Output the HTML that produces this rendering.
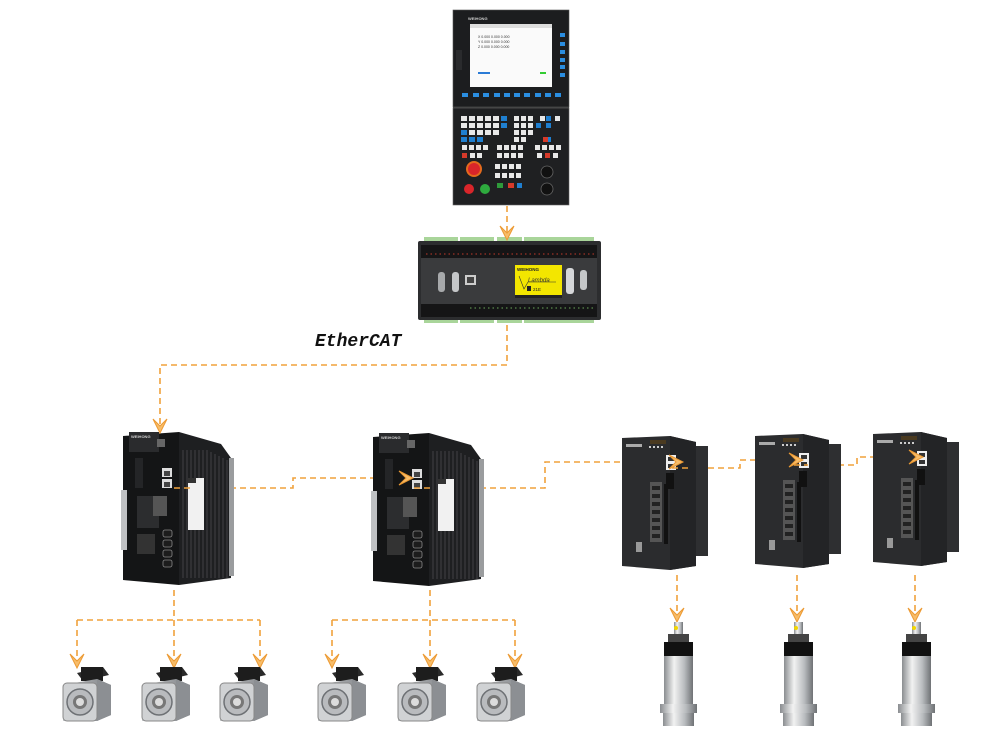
<!DOCTYPE html>
<html><head><meta charset="utf-8"><style>
html,body{margin:0;padding:0;background:#fff;width:1000px;height:732px;overflow:hidden}
svg{display:block}
</style></head><body>
<svg width="1000" height="732" viewBox="0 0 1000 732" xmlns="http://www.w3.org/2000/svg">
<defs>
<linearGradient id="silver" x1="0" x2="1">
<stop offset="0" stop-color="#8a8d90"/><stop offset="0.35" stop-color="#f2f2f2"/><stop offset="0.7" stop-color="#b9bcbf"/><stop offset="1" stop-color="#6f7275"/>
</linearGradient>
<linearGradient id="mgrey" x1="0" x2="1">
<stop offset="0" stop-color="#c9cbcd"/><stop offset="1" stop-color="#7d8084"/>
</linearGradient>
<g id="drive">
<polygon points="58,2 100,14 110,28 110,148 58,155" fill="#1e1f21"/>
<rect x="108" y="28" width="5" height="118" fill="#9a9c9e"/>
<g stroke="#3a3b3d" stroke-width="1.3">
<line x1="62" y1="20" x2="62" y2="148"/><line x1="66" y1="20" x2="66" y2="148"/><line x1="70" y1="20" x2="70" y2="148"/><line x1="74" y1="20" x2="74" y2="148"/><line x1="78" y1="20" x2="78" y2="148"/><line x1="82" y1="20" x2="82" y2="148"/><line x1="86" y1="20" x2="86" y2="148"/><line x1="90" y1="22" x2="90" y2="148"/><line x1="94" y1="24" x2="94" y2="148"/><line x1="98" y1="26" x2="98" y2="148"/><line x1="102" y1="28" x2="102" y2="148"/><line x1="106" y1="30" x2="106" y2="148"/>
</g>
<rect x="67" y="48" width="16" height="52" fill="#f1f1f1"/>
<rect x="67" y="48" width="8" height="5" fill="#333"/>
<polygon points="2,6 58,2 58,155 2,150" fill="#141516"/>
<rect x="8" y="2" width="30" height="20" fill="#2a2b2d"/>
<text x="10" y="8" font-family="Liberation Sans" font-size="4" fill="#ccc" font-weight="bold">WEIHONG</text>
<rect x="36" y="9" width="8" height="8" fill="#666"/>
<rect x="0" y="60" width="6" height="60" fill="#bfc1c3"/>
<rect x="41" y="38" width="10" height="9" fill="#ddd"/><rect x="41" y="49" width="10" height="9" fill="#ddd"/>
<rect x="43" y="41" width="6" height="5" fill="#444"/><rect x="43" y="52" width="6" height="5" fill="#444"/>
<rect x="14" y="28" width="8" height="30" fill="#242527"/>
<rect x="16" y="66" width="22" height="32" fill="#2c2d2f"/>
<rect x="32" y="66" width="14" height="20" fill="#555"/>
<rect x="16" y="104" width="18" height="20" fill="#333"/>
<g fill="#1c1c1c" stroke="#888" stroke-width="0.8">
<rect x="42" y="100" width="9" height="7" rx="2"/><rect x="42" y="110" width="9" height="7" rx="2"/><rect x="42" y="120" width="9" height="7" rx="2"/><rect x="42" y="130" width="9" height="7" rx="2"/>
</g>
</g>
<g id="sdrive">
<polygon points="0,2 48,0 74,6 74,130 48,134 0,130" fill="#2b2c2e"/>
<polygon points="48,0 74,6 74,130 48,134" fill="#232426"/>
<rect x="74" y="10" width="12" height="110" fill="#2e2f31"/>
<rect x="4" y="8" width="16" height="3" fill="#aaa"/>
<rect x="28" y="4" width="16" height="4" fill="#4a3a20"/>
<g fill="#ccc"><rect x="27" y="10" width="2" height="2"/><rect x="31" y="10" width="2" height="2"/><rect x="35" y="10" width="2" height="2"/><rect x="39" y="10" width="2" height="2"/></g>
<rect x="44" y="19" width="10" height="15" fill="#eee"/>
<rect x="46" y="21" width="6" height="4" fill="#333"/><rect x="46" y="28" width="6" height="4" fill="#333"/>
<rect x="44" y="37" width="8" height="16" fill="#111"/>
<rect x="28" y="46" width="12" height="60" fill="#555"/>
<g fill="#222"><rect x="30" y="50" width="8" height="4"/><rect x="30" y="58" width="8" height="4"/><rect x="30" y="66" width="8" height="4"/><rect x="30" y="74" width="8" height="4"/><rect x="30" y="82" width="8" height="4"/><rect x="30" y="90" width="8" height="4"/><rect x="30" y="98" width="8" height="4"/></g>
<rect x="42" y="48" width="4" height="60" fill="#111"/>
<rect x="14" y="106" width="6" height="10" fill="#999"/>
</g>
<g id="motor">
<polygon points="14,10 40,4 46,12 20,18" fill="#2a2a2a"/>
<rect x="18" y="4" width="22" height="14" fill="#1d1d1d"/>
<polygon points="0,22 34,16 48,22 48,52 34,58 0,58" fill="url(#mgrey)"/>
<polygon points="34,16 48,22 48,52 34,58" fill="#8c8f93"/>
<rect x="0" y="20" width="34" height="38" rx="4" fill="#d0d2d4" stroke="#888" stroke-width="1"/>
<circle cx="17" cy="39" r="13" fill="#b9bbbe" stroke="#6e7175" stroke-width="1.5"/>
<circle cx="17" cy="39" r="7" fill="#777"/>
<circle cx="17" cy="39" r="4" fill="#dcdcdc"/>
</g>
<g id="spindle">
<rect x="14" y="0" width="9" height="14" fill="url(#silver)"/>
<circle cx="16" cy="6" r="2" fill="#f2d600"/>
<rect x="8" y="12" width="21" height="10" fill="#444"/>
<rect x="4" y="20" width="29" height="14" fill="#111"/>
<rect x="4" y="34" width="29" height="48" fill="url(#silver)"/>
<rect x="0" y="82" width="37" height="9" fill="url(#silver)"/>
<rect x="3" y="91" width="31" height="13" fill="url(#silver)"/>
</g>
<g id="arr"><path d="M-7,-14 L0,0 L7,-14 L0,-7 Z" fill="#f7bd6a" stroke="#ec9a33" stroke-width="1"/></g>
</defs>

<rect x="453" y="10" width="116" height="195" fill="#222325"/>
<rect x="453" y="10" width="116" height="97" fill="#1c1d1f" stroke="#555" stroke-width="0.6"/>
<rect x="453" y="108" width="116" height="97" fill="#1f2022" stroke="#666" stroke-width="0.6"/>
<rect x="470" y="24" width="82" height="63" fill="#fafafa"/>
<rect x="470" y="24" width="82" height="4" fill="#ddd"/>
<g font-family="Liberation Sans" font-size="3.5" fill="#333">
<text x="478" y="38">X   0.000   0.000   0.000</text>
<text x="478" y="43">Y   0.000   0.000   0.000</text>
<text x="478" y="48">Z   0.000   0.000   0.000</text>
</g>
<rect x="478" y="72" width="12" height="2" fill="#2a7bd6"/><rect x="540" y="72" width="6" height="2" fill="#3c3"/>
<text x="468" y="20" font-family="Liberation Sans" font-size="4" fill="#ccc" font-weight="bold">WEIHONG</text>
<g fill="#2a8de0"><rect x="560" y="33" width="5" height="4"/><rect x="560" y="42" width="5" height="4"/><rect x="560" y="50" width="5" height="4"/><rect x="560" y="58" width="5" height="4"/><rect x="560" y="65" width="5" height="4"/><rect x="560" y="73" width="5" height="4"/>
<rect x="462" y="93" width="6" height="4"/><rect x="473" y="93" width="6" height="4"/><rect x="483" y="93" width="6" height="4"/><rect x="494" y="93" width="6" height="4"/><rect x="504" y="93" width="6" height="4"/><rect x="514" y="93" width="6" height="4"/><rect x="524" y="93" width="6" height="4"/><rect x="535" y="93" width="6" height="4"/><rect x="545" y="93" width="6" height="4"/><rect x="555" y="93" width="6" height="4"/></g>
<rect x="456" y="50" width="6" height="20" fill="#2a2b2d"/>
<g fill="#e8e8e8">
<rect x="461" y="116" width="6" height="5"/><rect x="469" y="116" width="6" height="5"/><rect x="477" y="116" width="6" height="5"/><rect x="485" y="116" width="6" height="5"/><rect x="493" y="116" width="6" height="5"/>
<rect x="461" y="123" width="6" height="5"/><rect x="469" y="123" width="6" height="5"/><rect x="477" y="123" width="6" height="5"/><rect x="485" y="123" width="6" height="5"/><rect x="493" y="123" width="6" height="5"/>
<rect x="469" y="130" width="6" height="5"/><rect x="477" y="130" width="6" height="5"/><rect x="485" y="130" width="6" height="5"/><rect x="493" y="130" width="6" height="5"/>
<rect x="514" y="116" width="5" height="5"/><rect x="521" y="116" width="5" height="5"/><rect x="528" y="116" width="5" height="5"/>
<rect x="514" y="123" width="5" height="5"/><rect x="521" y="123" width="5" height="5"/><rect x="528" y="123" width="5" height="5"/>
<rect x="514" y="130" width="5" height="5"/><rect x="521" y="130" width="5" height="5"/><rect x="528" y="130" width="5" height="5"/>
<rect x="514" y="137" width="5" height="5"/><rect x="521" y="137" width="5" height="5"/>
<rect x="540" y="116" width="5" height="5"/><rect x="555" y="116" width="5" height="5"/>
<rect x="462" y="145" width="5" height="5"/><rect x="469" y="145" width="5" height="5"/><rect x="476" y="145" width="5" height="5"/><rect x="483" y="145" width="5" height="5"/><rect x="497" y="145" width="5" height="5"/><rect x="504" y="145" width="5" height="5"/><rect x="511" y="145" width="5" height="5"/><rect x="518" y="145" width="5" height="5"/><rect x="535" y="145" width="5" height="5"/><rect x="542" y="145" width="5" height="5"/><rect x="549" y="145" width="5" height="5"/><rect x="556" y="145" width="5" height="5"/>
<rect x="470" y="153" width="5" height="5"/><rect x="477" y="153" width="5" height="5"/><rect x="497" y="153" width="5" height="5"/><rect x="504" y="153" width="5" height="5"/><rect x="511" y="153" width="5" height="5"/><rect x="518" y="153" width="5" height="5"/><rect x="537" y="153" width="5" height="5"/><rect x="553" y="153" width="5" height="5"/>
<rect x="495" y="164" width="5" height="5"/><rect x="502" y="164" width="5" height="5"/><rect x="509" y="164" width="5" height="5"/><rect x="516" y="164" width="5" height="5"/>
<rect x="495" y="173" width="5" height="5"/><rect x="502" y="173" width="5" height="5"/><rect x="509" y="173" width="5" height="5"/><rect x="516" y="173" width="5" height="5"/>
</g>
<g fill="#1f7fd0"><rect x="501" y="116" width="6" height="5"/><rect x="501" y="123" width="6" height="5"/><rect x="461" y="130" width="6" height="5"/><rect x="461" y="137" width="6" height="5"/><rect x="469" y="137" width="6" height="5"/><rect x="477" y="137" width="6" height="5"/><rect x="546" y="116" width="5" height="5"/><rect x="546" y="123" width="5" height="5"/><rect x="546" y="137" width="5" height="5"/><rect x="536" y="123" width="5" height="5"/><rect x="517" y="183" width="5" height="5"/></g>
<g fill="#d63a2a"><rect x="462" y="153" width="5" height="5"/><rect x="545" y="153" width="5" height="5"/><rect x="543" y="137" width="5" height="5"/><rect x="508" y="183" width="6" height="5"/></g>
<rect x="497" y="183" width="6" height="5" fill="#2e9a3a"/>
<circle cx="474" cy="169" r="8" fill="#e46a1d"/><circle cx="474" cy="169" r="6" fill="#d9252a"/>
<circle cx="469" cy="189" r="5" fill="#d9252a"/><circle cx="485" cy="189" r="5" fill="#2eaa3e"/>
<circle cx="547" cy="172" r="6" fill="#111" stroke="#666" stroke-width="0.8"/>
<circle cx="547" cy="189" r="6" fill="#111" stroke="#666" stroke-width="0.8"/>

<g fill="#a9d59a"><rect x="424" y="237" width="34" height="5"/><rect x="460" y="237" width="34" height="5"/><rect x="497" y="237" width="25" height="5"/><rect x="524" y="237" width="36" height="5"/><rect x="560" y="237" width="34" height="5"/>
<rect x="424" y="318" width="34" height="5"/><rect x="460" y="318" width="34" height="5"/><rect x="497" y="318" width="25" height="5"/><rect x="524" y="318" width="36" height="5"/><rect x="560" y="318" width="34" height="5"/></g>
<rect x="418" y="241" width="183" height="79" rx="2" fill="#2c2d2f"/>
<rect x="421" y="245" width="176" height="13" fill="#151516"/>
<rect x="421" y="304" width="176" height="13" fill="#151516"/>
<g stroke="#c0392b" stroke-width="1" stroke-dasharray="1.5 3"><line x1="426" y1="254" x2="594" y2="254"/></g>
<g stroke="#6aa85a" stroke-width="1" stroke-dasharray="1.5 3"><line x1="470" y1="308" x2="594" y2="308"/></g>
<rect x="421" y="258" width="176" height="46" fill="#3a3b3d"/>
<rect x="438" y="272" width="7" height="20" rx="3" fill="#a7a9ab"/><rect x="452" y="272" width="7" height="20" rx="3" fill="#c5c7c9"/>
<rect x="465" y="275" width="11" height="10" fill="#ccc"/><rect x="467" y="277" width="7" height="6" fill="#444"/>
<rect x="515" y="265" width="47" height="33" fill="#f3e600"/>
<rect x="515" y="295" width="47" height="3" fill="#222"/>
<text x="517" y="271" font-family="Liberation Sans" font-size="4.5" font-weight="bold" fill="#222">WEIHONG</text>
<text x="528" y="282" font-family="Liberation Sans" font-size="6" font-style="italic" fill="#333">Lambda</text>
<path d="M519,276 L524,289 L528,282 L556,282" fill="none" stroke="#333" stroke-width="0.6"/>
<rect x="527" y="286" width="4" height="5" fill="#222"/><text x="533" y="291" font-family="Liberation Sans" font-size="4.5" fill="#222">21E</text>
<rect x="566" y="268" width="8" height="26" rx="3" fill="#d5d7d9"/><rect x="580" y="270" width="7" height="20" rx="3" fill="#c5c7c9"/>

<text x="315" y="346" font-family="Liberation Mono" font-size="18" font-style="italic" font-weight="bold" fill="#111">EtherCAT</text>

<g fill="none" stroke="#f0a23c" stroke-width="1.6" stroke-dasharray="6 4">
<path d="M507,206 V236"/>
<path d="M507,325 V365 H160 V430"/>
<path d="M190,488 H293 V478 H405"/>
<path d="M420,488 H545 V462 H675"/>
<path d="M688,468 H740 V460 H795"/>
<path d="M808,465 H857 V457 H915"/>
<path d="M174,590 V665 M77,620 H260 M77,620 V665 M260,620 V665"/>
<path d="M430,590 V665 M332,620 H515 M332,620 V665 M515,620 V665"/>
<path d="M677,575 V620"/><path d="M797,575 V620"/><path d="M915,575 V620"/>
</g>

<use href="#drive" x="121" y="430"/>
<use href="#drive" x="371" y="431"/>
<use href="#sdrive" x="622" y="436"/>
<use href="#sdrive" x="755" y="434"/>
<use href="#sdrive" x="873" y="432"/>
<g fill="none" stroke="#f0a23c" stroke-width="1.6" stroke-dasharray="6 4">
<path d="M174,488 H190"/><path d="M414,488 H430"/><path d="M672,468 H688"/><path d="M794,465 H808"/>
</g>
<use href="#arr" x="507" y="240"/>
<use href="#arr" x="160" y="433"/>
<use href="#arr" transform="translate(413,478) rotate(-90)"/>
<use href="#arr" transform="translate(683,462) rotate(-90)"/>
<use href="#arr" transform="translate(803,460) rotate(-90)"/>
<use href="#arr" transform="translate(923,457) rotate(-90)"/>
<use href="#arr" x="77" y="668"/><use href="#arr" x="174" y="668"/><use href="#arr" x="260" y="668"/>
<use href="#arr" x="332" y="668"/><use href="#arr" x="430" y="668"/><use href="#arr" x="515" y="668"/>
<use href="#arr" x="677" y="622"/><use href="#arr" x="797" y="622"/><use href="#arr" x="915" y="622"/>

<use href="#motor" x="63" y="663"/><use href="#motor" x="142" y="663"/><use href="#motor" x="220" y="663"/>
<use href="#motor" x="318" y="663"/><use href="#motor" x="398" y="663"/><use href="#motor" x="477" y="663"/>
<use href="#spindle" x="660" y="622"/><use href="#spindle" x="780" y="622"/><use href="#spindle" x="898" y="622"/>
</svg>
</body></html>
